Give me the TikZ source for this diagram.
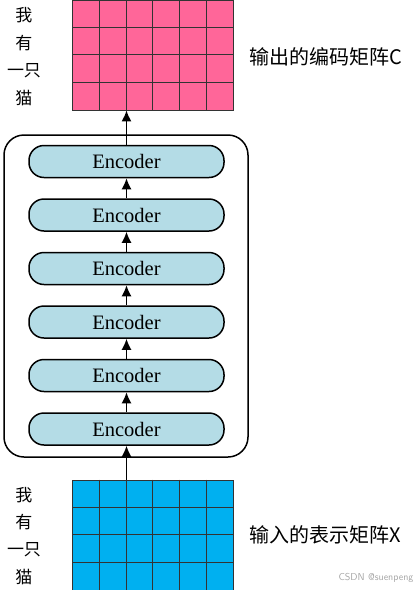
\documentclass[tikz,border=0pt]{standalone}
\usepackage{fontspec}
\setmainfont{Liberation Serif}
\newfontfamily\cjk{Noto Sans CJK SC}
\usepackage{xcolor}
\usetikzlibrary{arrows.meta}
\definecolor{outpink}{HTML}{FF6699}
\definecolor{inblue}{HTML}{00B0F0}
\definecolor{encblue}{HTML}{B4DCE6}

\begin{document}
\begin{tikzpicture}[x=1pt, y=-1pt,
          enc/.style={draw, line width=1.5pt, fill=encblue, rounded corners=15pt, minimum width=195pt, minimum height=32pt, inner sep=0pt, font=\fontsize{20.5}{24}\selectfont},
          mat/.style={draw=black!80, line width=0.7pt, minimum width=160.6pt, minimum height=110pt, inner sep=0pt},
          cell/.style={draw=black!80, line width=0.7pt},
          word/.style={font=\cjk\fontsize{17}{20}\selectfont},
          mattitle/.style={anchor=west, font=\cjk\fontsize{20}{24}\selectfont},
          arr/.style={-{Latex[length=11pt,width=10pt]}, line width=1.6pt},
        ]
          \useasboundingbox (0,0) rectangle (417,590);

          \node[mat, fill=outpink] (outmat) at (153,55) {};
          \node[mat, fill=inblue] (inmat) at (153,535) {};
          \foreach \m in {outmat,inmat} {
            \foreach \c in {1,...,5}
              \draw[cell] ([xshift=\c*26.77pt]\m.north west) -- ([xshift=\c*26.77pt]\m.south west);
            \foreach \r in {1,2,3}
              \draw[cell] ([yshift=-\r*27.5pt]\m.north west) -- ([yshift=-\r*27.5pt]\m.north east);
          }

          \foreach \w [count=\i] in {我,有,一只,猫} {
            \node[word] (outw\i) at (24,15+27.7*\i-27.7) {\w};
            \node[word] (inw\i) at (24,495+27.5*\i-27.5) {\w};
          }
          \node[mattitle] (outtitle) at (246,57) {输出的编码矩阵C};
          \node[mattitle] (intitle) at (246,535) {输入的表示矩阵X};

          \node[draw, line width=1.5pt, rounded corners=20pt, minimum width=244pt, minimum height=322pt] (stack) at (126,296) {};
          \foreach \k in {1,...,6}
            \node[enc] (enc\k) at (126.5,482.5-53.5*\k) {Encoder};

          \foreach \k/\n in {1/2,2/3,3/4,4/5,5/6}
            \draw[arr] (enc\k) -- (enc\n);
          \draw[arr] (enc1.south |- inmat.north) -- (enc1.south);
          \draw[arr] (enc6.north) -- (enc6.north |- outmat.south);

          \node[anchor=east, text=black!35, font=\sffamily\fontsize{10}{11}\selectfont] (mark) at (417,578) {CSDN @suenpeng};
        \end{tikzpicture}
\end{document}
